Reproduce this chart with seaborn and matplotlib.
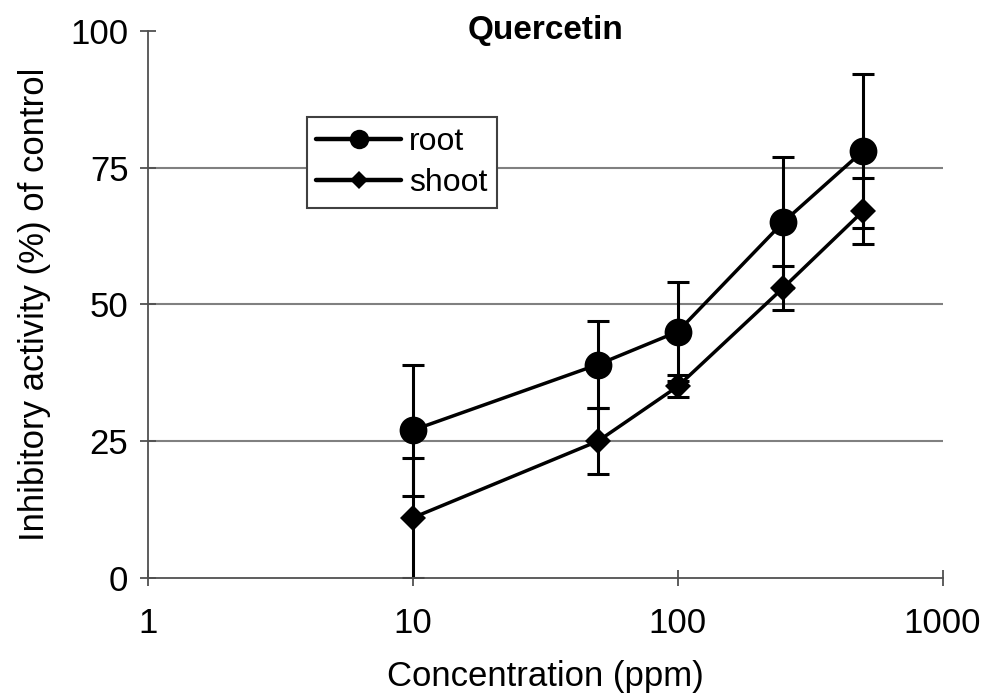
import matplotlib
matplotlib.use("Agg")
import matplotlib.pyplot as plt
import seaborn as sns
import pandas as pd
import numpy as np

conc = [10, 50, 100, 250, 500]
root = [27, 39, 45, 65, 78]
root_err = [12, 8, 9, 12, 14]
shoot = [11, 25, 35, 53, 67]
shoot_err = [11, 6, 2, 4, 6]
y_ticks = [0, 25, 50, 75, 100]
x_ticks = [1, 10, 100, 1000]

sns.set_style("ticks")
plt.rcParams['font.family'] = ['Liberation Sans', 'DejaVu Sans']
plt.rcParams['text.color'] = 'black'
plt.rcParams['axes.labelcolor'] = 'black'
plt.rcParams['xtick.color'] = 'black'
plt.rcParams['ytick.color'] = 'black'

df = pd.DataFrame({
    "conc": conc * 2,
    "val": root + shoot,
    "series": ["root"] * len(conc) + ["shoot"] * len(conc),
})

fig = plt.figure(figsize=(9.86, 6.98), dpi=100)
ax = fig.add_axes([0.150, 0.172, 0.806, 0.784])

for yv in [25, 50, 75]:
    ax.axhline(yv, color="#808080", lw=1.5, zorder=0)

ax.errorbar(conc, root, yerr=root_err, fmt='none', ecolor='black',
            elinewidth=2.2, capsize=8, capthick=2.2, zorder=2)
ax.errorbar(conc, shoot, yerr=shoot_err, fmt='none', ecolor='black',
            elinewidth=2.2, capsize=8, capthick=2.2, zorder=2)

sns.lineplot(data=df, x="conc", y="val", hue="series", style="series",
             markers={"root": "o", "shoot": "D"}, dashes=False,
             palette={"root": "black", "shoot": "black"},
             linewidth=2.5, markeredgewidth=0, ax=ax, zorder=3)
for line in ax.get_lines():
    if line.get_marker() == 'o':
        line.set_markersize(20)
    elif line.get_marker() == 'D':
        line.set_markersize(13)

ax.set_xscale("log")
ax.set_xlim(1, 1000)
ax.set_ylim(0, 100)
ax.set_xticks(x_ticks)
ax.set_xticklabels([str(v) for v in x_ticks])
ax.minorticks_off()
ax.set_yticks(y_ticks)
ax.set_yticklabels([str(v) for v in y_ticks])
ax.tick_params(axis='both', which='major', direction='inout', length=12, width=1.3,
               color='#505050', labelcolor='black', labelsize=25,
               bottom=True, left=True)
ax.tick_params(axis='x', pad=15)
ax.tick_params(axis='y', pad=8)
for s in ['top', 'right']:
    ax.spines[s].set_visible(False)
for s in ['left', 'bottom']:
    ax.spines[s].set_color('#505050')
    ax.spines[s].set_linewidth(1.3)

ax.set_xlabel("Concentration (ppm)", fontsize=25, labelpad=14)
ax.set_ylabel("Inhibitory activity (%) of control", fontsize=25, labelpad=14)
ax.text(0.5, 1.0, "Quercetin", transform=ax.transAxes, ha='center', va='center',
        fontsize=24, fontweight='bold')

handles, labels = ax.get_legend_handles_labels()
leg = ax.legend(handles, labels, loc='upper left', bbox_to_anchor=(0.2, 0.842),
                fontsize=23, frameon=True, fancybox=False, edgecolor='#404040',
                framealpha=1, handlelength=2.65, markerscale=0.7,
                borderpad=0.3, labelspacing=0.35, handletextpad=0.25,
                borderaxespad=0)
leg.get_frame().set_linewidth(1.5)
for lh in leg.get_lines():
    lh.set_linewidth(3.2)

fig.savefig("out.png", dpi=100)
